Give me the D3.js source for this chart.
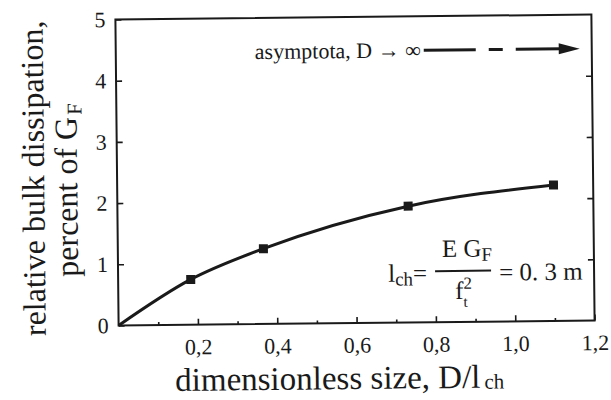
<!DOCTYPE html>
<html>
<head>
<meta charset="utf-8">
<script src="https://cdn.jsdelivr.net/npm/d3@7"></script>
<style>
  body { margin: 0; background: #fff; }
  svg text { font-family: "Liberation Serif", "Times New Roman", serif; fill: #1a1a1a; }
</style>
</head>
<body>
<script>
// values
var sizeRatio   = [0, 0.183, 0.367, 0.733, 1.1];   // D / l_ch
var dissipation = [0, 0.74, 1.23, 1.90, 2.22];     // percent of G_F
var markerIdx   = [1, 2, 3, 4];

var xMajor = [0.2, 0.4, 0.6, 0.8, 1.0, 1.2],
    xMajorLabels = ["0,2", "0,4", "0,6", "0,8", "1,0", "1,2"],
    xMinor = [0.1, 0.3, 0.5, 0.7, 0.9, 1.1],
    yTicks = [0, 1, 2, 3, 4, 5],
    yRightTicks = [1, 2, 3, 4];

var width = 611, height = 400;
var margin = {top: 17, right: 18, bottom: 77, left: 117};
var w = width - margin.left - margin.right,
    h = height - margin.top - margin.bottom;

var ink = "#1a1a1a";

var svg = d3.select("body").append("svg")
    .attr("width", width)
    .attr("height", height);

// the scanned figure is tilted a little
var root = svg.append("g")
    .attr("transform", "rotate(-0.6,355,170)");

var g = root.append("g")
    .attr("transform", "translate(" + margin.left + "," + margin.top + ")");

var x = d3.scaleLinear().domain([0, 1.2]).range([0, w]),
    y = d3.scaleLinear().domain([0, 5]).range([h, 0]);

// bottom axis, ticks pointing inward
g.append("g")
    .attr("transform", "translate(0," + h + ")")
    .call(d3.axisBottom(x)
        .tickValues(xMajor)
        .tickSize(-6)
        .tickPadding(14)
        .tickFormat(function(d, i) { return xMajorLabels[i]; }));

g.append("g")
    .attr("transform", "translate(0," + h + ")")
    .call(d3.axisBottom(x).tickValues(xMinor).tickSize(-3).tickFormat(""));

g.append("g")
    .call(d3.axisLeft(y)
        .tickValues(yTicks)
        .tickSize(-6)
        .tickPadding(10)
        .tickFormat(d3.format("d")));

g.append("g")
    .attr("transform", "translate(" + w + ",0)")
    .call(d3.axisRight(y).tickValues(yRightTicks).tickSize(-6).tickFormat(""));

g.selectAll(".domain").remove();
g.selectAll(".tick line").attr("stroke", ink).attr("stroke-width", 1.6);
g.selectAll(".tick text")
    .style("font-family", "'Liberation Serif', 'Times New Roman', serif")
    .style("font-size", "22px")
    .attr("fill", ink);

// frame
g.append("rect")
    .attr("width", w)
    .attr("height", h)
    .attr("fill", "none")
    .attr("stroke", ink)
    .attr("stroke-width", 2);

// curve
var line = d3.line()
    .curve(d3.curveMonotoneX)
    .x(function(d, i) { return x(sizeRatio[i]); })
    .y(function(d) { return y(d); });

g.append("path")
    .datum(dissipation)
    .attr("d", line)
    .attr("fill", "none")
    .attr("stroke", ink)
    .attr("stroke-width", 3);

var ms = 9;
g.selectAll(".marker")
    .data(markerIdx)
  .enter().append("rect")
    .attr("class", "marker")
    .attr("x", function(i) { return x(sizeRatio[i]) - ms / 2; })
    .attr("y", function(i) { return y(dissipation[i]) - ms / 2; })
    .attr("width", ms)
    .attr("height", ms)
    .attr("fill", ink);

// asymptote annotation
var ay = 34;
g.append("text")
    .attr("x", 305)
    .attr("y", ay + 7)
    .attr("text-anchor", "end")
    .style("font-size", "22px")
    .text("asymptota, D \u2192 \u221e");

var segs = [[308, 360], [373, 387], [400, 446]];
g.selectAll(".seg")
    .data(segs)
  .enter().append("line")
    .attr("x1", function(d) { return d[0]; })
    .attr("x2", function(d) { return d[1]; })
    .attr("y1", ay).attr("y2", ay)
    .attr("stroke", ink)
    .attr("stroke-width", 3);

g.append("path")
    .attr("d", "M443," + (ay - 5.5) + "L464," + ay + "L443," + (ay + 5.5) + "Z")
    .attr("fill", ink);

// formula l_ch = E G_F / f_t^2 = 0. 3 m
var fy = 265;
var f = g.append("g");
var t1 = f.append("text").attr("x", 270).attr("y", fy).style("font-size", "25px");
t1.append("tspan").text("l");
t1.append("tspan").attr("dy", 4).style("font-size", "19px").text("ch");
t1.append("tspan").attr("dy", -4).text("=");

var t2 = f.append("text").attr("x", 324).attr("y", fy - 24).style("font-size", "25px");
t2.append("tspan").text("E G");
t2.append("tspan").attr("dy", 4).style("font-size", "19px").text("F");

f.append("line")
    .attr("x1", 317).attr("x2", 373)
    .attr("y1", fy - 10).attr("y2", fy - 10)
    .attr("stroke", ink).attr("stroke-width", 2);

var t3 = f.append("text").attr("x", 337).attr("y", fy + 18).style("font-size", "25px");
t3.append("tspan").text("f");
t3.append("tspan").attr("dy", -10).style("font-size", "17px").text("2");
t3.append("tspan").attr("x", 345).attr("dy", 18).style("font-size", "15px").text("t");

f.append("text")
    .attr("x", 381).attr("y", fy)
    .style("font-size", "25px")
    .text("= 0. 3 m");

// axis titles
var xt = root.append("text")
    .attr("x", 173)
    .attr("y", 389)
    .style("font-size", "33px");
xt.append("tspan").text("dimensionless size, D/l");
xt.append("tspan").attr("dx", 4).attr("dy", 1).style("font-size", "21px").text("ch");

root.append("text")
    .attr("transform", "translate(44,175) rotate(-90)")
    .attr("text-anchor", "middle")
    .style("font-size", "32px")
    .text("relative bulk dissipation,");

var yt2 = root.append("text")
    .attr("transform", "translate(77,187) rotate(-90)")
    .attr("text-anchor", "middle")
    .style("font-size", "32px");
yt2.append("tspan").text("percent of G");
yt2.append("tspan").attr("dx", 2).attr("dy", 5).style("font-size", "21px").text("F");
</script>
</body>
</html>
